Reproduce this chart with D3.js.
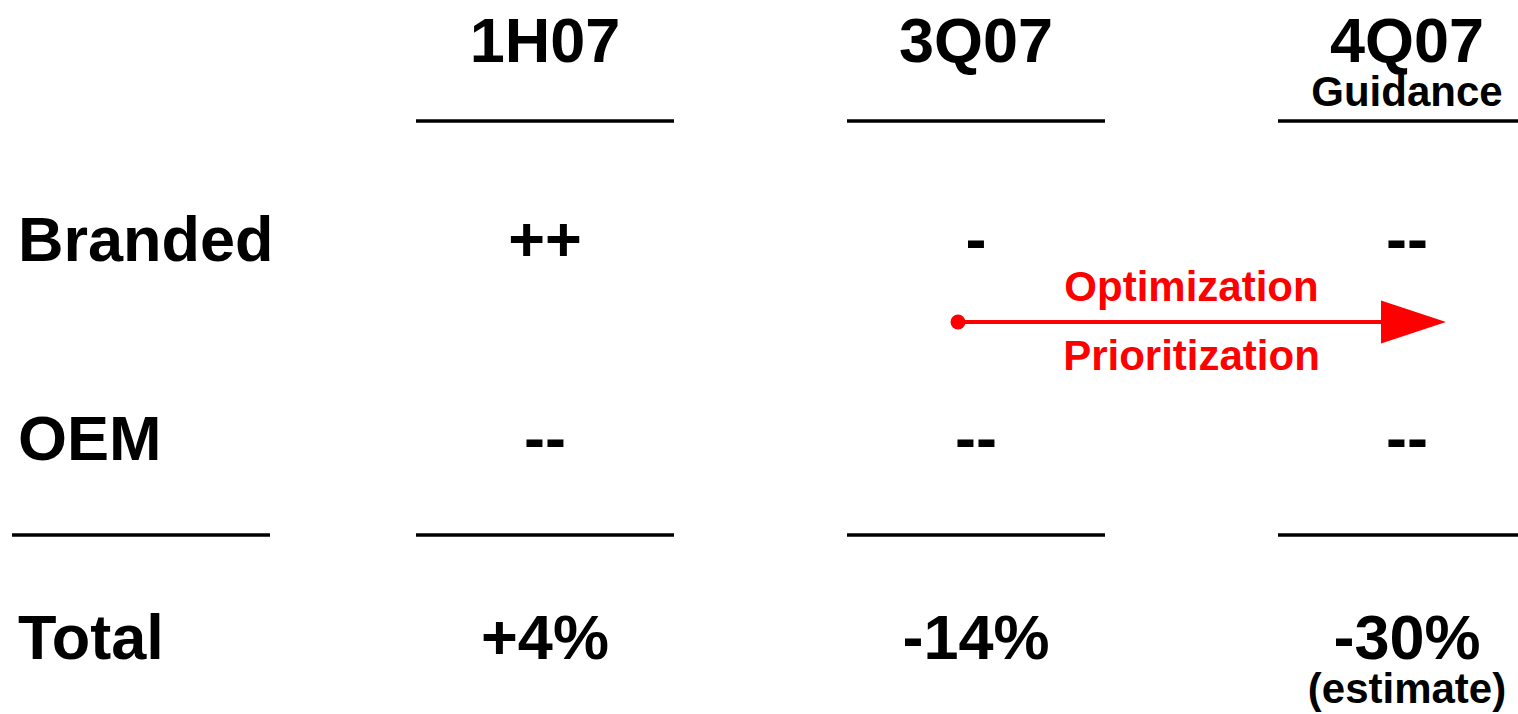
<!DOCTYPE html>
<html>
<head>
<meta charset="utf-8">
<script src="https://cdn.jsdelivr.net/npm/d3@7"></script>
<style>
  body { margin: 0; background: #fff; }
  text { font-family: "Liberation Sans", Arial, sans-serif; font-weight: bold; }
</style>
</head>
<body>
<script>
// Table values
let periods = ["1H07", "3Q07", "4Q07"];
let periodNotes = ["", "", "Guidance"];
let rowNames = ["Branded", "OEM", "Total"];
let branded = ["++", "-", "--"];
let oem = ["--", "--", "--"];
let total = ["+4%", "-14%", "-30%"];
let totalNotes = ["", "", "(estimate)"];
let arrowLabels = ["Optimization", "Prioritization"];

let width = 1518, height = 714;

let svg = d3.select("body")
  .append("svg")
    .attr("width", width)
    .attr("height", height);

// column centres and row baselines
let x = d3.scalePoint().domain(periods).range([545, 1407]);
let y = d3.scalePoint().domain(["header"].concat(rowNames)).range([62, 659]);

let colW = 258;
let bigFont = 63;
let smallFont = 42;

// header labels
svg.selectAll(".period")
  .data(periods).enter().append("text")
  .attr("class", "period")
  .attr("x", d => x(d))
  .attr("y", y("header"))
  .attr("text-anchor", "middle")
  .style("font-size", bigFont + "px")
  .text(d => d);

svg.selectAll(".period-note")
  .data(periods).enter().append("text")
  .attr("class", "period-note")
  .attr("x", d => x(d))
  .attr("y", y("header") + 44)
  .attr("text-anchor", "middle")
  .style("font-size", smallFont + "px")
  .text((d, i) => periodNotes[i]);

// header underlines
svg.selectAll(".top-rule")
  .data(periods).enter().append("line")
  .attr("class", "top-rule")
  .attr("x1", d => x(d) - colW / 2)
  .attr("x2", d => x(d) + colW / 2)
  .attr("y1", 121).attr("y2", 121)
  .attr("stroke", "#000").attr("stroke-width", 3.5);

// row labels
svg.selectAll(".row-label")
  .data(rowNames).enter().append("text")
  .attr("class", "row-label")
  .attr("x", 18)
  .attr("y", d => y(d))
  .style("font-size", bigFont + "px")
  .text(d => d);

// cell values
let rowValues = { Branded: branded, OEM: oem, Total: total };
rowNames.forEach(r => {
  svg.selectAll(".cell-" + r)
    .data(periods).enter().append("text")
    .attr("class", "cell-" + r)
    .attr("x", d => x(d))
    .attr("y", y(r))
    .attr("text-anchor", "middle")
    .style("font-size", bigFont + "px")
    .text((d, i) => rowValues[r][i]);
});

svg.selectAll(".total-note")
  .data(periods).enter().append("text")
  .attr("class", "total-note")
  .attr("x", d => x(d))
  .attr("y", y("Total") + 44)
  .attr("text-anchor", "middle")
  .style("font-size", smallFont + "px")
  .text((d, i) => totalNotes[i]);

// divider above Total
let ruleY = 535;
svg.append("line")
  .attr("x1", 12).attr("x2", 12 + colW)
  .attr("y1", ruleY).attr("y2", ruleY)
  .attr("stroke", "#000").attr("stroke-width", 3.5);

svg.selectAll(".mid-rule")
  .data(periods).enter().append("line")
  .attr("class", "mid-rule")
  .attr("x1", d => x(d) - colW / 2)
  .attr("x2", d => x(d) + colW / 2)
  .attr("y1", ruleY).attr("y2", ruleY)
  .attr("stroke", "#000").attr("stroke-width", 3.5);

// red arrow from 3Q07 towards 4Q07
let red = "#ff0000";
let ay = y("Branded") + 61;
let ax0 = x("3Q07") - 18, ax1 = x("4Q07") + 39;
let headLen = 65, headHalf = 21.5;

svg.append("line")
  .attr("x1", ax0).attr("x2", ax1 - headLen + 2)
  .attr("y1", ay).attr("y2", ay)
  .attr("stroke", red).attr("stroke-width", 4);

svg.append("circle")
  .attr("cx", ax0).attr("cy", ay).attr("r", 7.5)
  .attr("fill", red);

svg.append("path")
  .attr("d", d3.line()([[ax1 - headLen, ay - headHalf], [ax1, ay], [ax1 - headLen, ay + headHalf]]) + "Z")
  .attr("fill", red);

let labelX = (x("3Q07") + x("4Q07")) / 2;
svg.selectAll(".arrow-label")
  .data(arrowLabels).enter().append("text")
  .attr("class", "arrow-label")
  .attr("x", labelX)
  .attr("y", (d, i) => i === 0 ? ay - 21 : ay + 48)
  .attr("text-anchor", "middle")
  .attr("fill", red)
  .style("font-size", smallFont + "px")
  .text(d => d);
</script>
</body>
</html>
